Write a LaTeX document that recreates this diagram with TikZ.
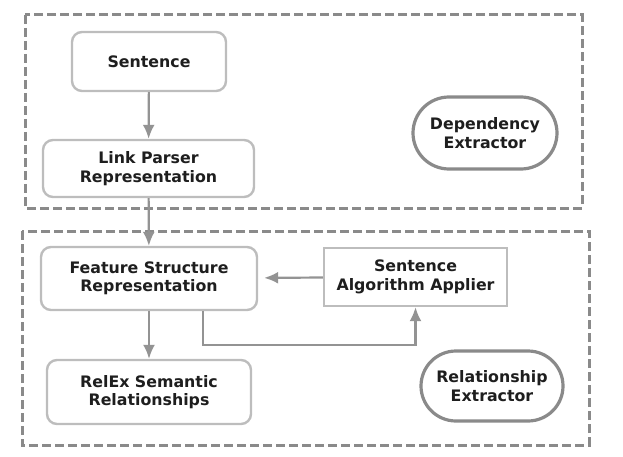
\documentclass[tikz,border=0pt]{standalone}
\usepackage{fontspec}
\setmainfont{DejaVu Sans}
\usetikzlibrary{shapes,shapes.misc,arrows.meta,positioning,calc}
\definecolor{boxline}{HTML}{BDBDBD}
\definecolor{darkline}{HTML}{8A8A8A}
\definecolor{arrline}{HTML}{939393}
\definecolor{txt}{HTML}{1E1E1E}
\tikzset{
block/.style = {draw=boxline, line width=2.4pt, fill=white, rectangle, rounded corners=10pt, align=center, inner sep=0pt, text=txt, font=\fontsize{15.8}{18.5}\selectfont\bfseries},
plainblock/.style = {block, rounded corners=0pt},
extractor/.style = {draw=darkline, line width=3.2pt, fill=white, rounded rectangle, align=center, inner sep=0pt, text=txt, font=\fontsize{15.8}{18.5}\selectfont\bfseries},
group/.style = {draw=darkline, line width=3pt, dash pattern=on 9pt off 4pt},
arr/.style = {draw=arrline, line width=2.2pt, -{Latex[length=14pt,width=12pt]}},
}
\begin{document}
\begin{tikzpicture}[x=1pt,y=-1pt]
        \useasboundingbox (0,0) rectangle (623,457);
        % dashed groups
        \draw[group] (25,15) rectangle (582,208);
        \draw[group] (22,231) rectangle (589,445);

        % upper part
        \node [block, minimum width=154pt, minimum height=59pt] (sentence) at (149,61.5) {Sentence};
        \node [block, minimum width=211pt, minimum height=57pt] (link) at (148.5,168.5) {Link Parser\\Representation};
        \node [extractor, minimum width=144pt, minimum height=72pt] (dep) at (485,133) {Dependency\\Extractor};

        % lower part
        \node [block, minimum width=216pt, minimum height=63pt] (feature) at (149,278.5) {Feature Structure\\Representation};
        \node [plainblock, minimum width=183pt, minimum height=58pt] (algo) at (415.5,277) {Sentence\\Algorithm Applier};
        \node [block, minimum width=204pt, minimum height=64pt] (relex) at (149,392) {RelEx Semantic\\Relationships};
        \node [extractor, minimum width=142pt, minimum height=70pt] (rel) at (492,386) {Relationship\\Extractor};

        \coordinate (bend) at (300,345);

        \draw [arr] (sentence) -- (link);
        \draw [arr] (link) -- (feature);
        \draw [arr, shorten >=6pt] (algo) -- (feature);
        \draw [arr] (feature) -- (relex);
        \draw [arr] ([xshift=-55pt]feature.south east) |- (bend) -| (algo.south);
\end{tikzpicture}
\end{document}
